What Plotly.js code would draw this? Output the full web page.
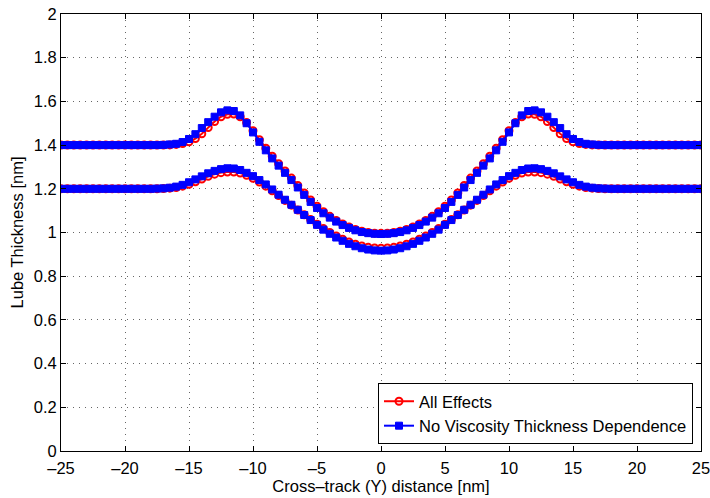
<!DOCTYPE html>
<html>
<head>
<meta charset="utf-8">
<script src="https://cdn.plot.ly/plotly-3.0.1.min.js"></script>
<style>
html,body{margin:0;padding:0;background:#fff;}
#chart{width:710px;height:498px;}
</style>
</head>
<body>
<div id="chart"></div>
<script>
var xNm = [-25,-24.5,-24,-23.5,-23,-22.5,-22,-21.5,-21,-20.5,-20,-19.5,-19,-18.5,-18,-17.5,-17,-16.5,-16,-15.5,-15,-14.5,-14,-13.5,-13,-12.5,-12,-11.5,-11,-10.5,-10,-9.5,-9,-8.5,-8,-7.5,-7,-6.5,-6,-5.5,-5,-4.5,-4,-3.5,-3,-2.5,-2,-1.5,-1,-0.5,0,
0.5,1,1.5,2,2.5,3,3.5,4,4.5,5,5.5,6,6.5,7,7.5,8,8.5,9,9.5,10,10.5,11,11.5,12,12.5,13,13.5,14,14.5,15,15.5,16,16.5,17,17.5,18,18.5,19,19.5,20,20.5,21,21.5,22,22.5,23,23.5,24,24.5,25];

var allEffectsUpper = [1.400,1.400,1.400,1.400,1.400,1.400,1.400,1.400,1.400,1.400,1.400,1.400,1.400,1.400,1.400,
1.400,1.400,1.401,1.403,1.407,1.415,1.430,1.452,1.480,1.508,1.530,1.541,1.542,1.530,1.503,1.466,1.425,1.386,1.349,1.315,1.282,1.249,1.215,1.181,1.149,1.120,1.095,1.074,1.055,1.039,1.025,1.014,1.006,1.000,0.997,0.996,
0.997,1.000,1.006,1.014,1.025,1.039,1.055,1.074,1.095,1.120,1.149,1.181,1.215,1.249,1.282,1.315,1.349,1.386,1.425,1.466,1.503,1.530,1.542,1.541,1.530,1.508,1.480,1.452,1.430,1.415,1.407,1.403,1.401,1.400,1.400,
1.400,1.400,1.400,1.400,1.400,1.400,1.400,1.400,1.400,1.400,1.400,1.400,1.400,1.400,1.400];

var allEffectsLower = [1.200,1.200,1.200,1.200,1.200,1.200,1.200,1.200,1.200,1.200,1.200,1.200,1.200,1.200,1.200,
1.200,1.201,1.203,1.206,1.212,1.221,1.232,1.245,1.257,1.267,1.274,1.277,1.277,1.272,1.262,1.248,1.231,1.212,1.191,1.169,1.147,1.125,1.103,1.081,1.059,1.038,1.018,1.000,0.984,0.969,0.957,0.946,0.938,0.932,0.929,0.928,
0.929,0.932,0.938,0.946,0.957,0.969,0.984,1.000,1.018,1.038,1.059,1.081,1.103,1.125,1.147,1.169,1.191,1.212,1.231,1.248,1.262,1.272,1.277,1.277,1.274,1.267,1.257,1.245,1.232,1.221,1.212,1.206,1.203,1.201,1.200,
1.200,1.200,1.200,1.200,1.200,1.200,1.200,1.200,1.200,1.200,1.200,1.200,1.200,1.200,1.200];

var noViscUpper = [1.400,1.400,1.400,1.400,1.400,1.400,1.400,1.400,1.400,1.400,1.400,1.400,1.400,1.400,1.400,
1.400,1.401,1.403,1.406,1.414,1.428,1.450,1.478,1.505,1.530,1.550,1.559,1.556,1.536,1.500,1.458,1.415,1.376,1.339,1.306,1.273,1.240,1.206,1.172,1.140,1.112,1.088,1.068,1.050,1.034,1.021,1.010,1.002,0.997,0.994,0.993,
0.994,0.997,1.002,1.010,1.021,1.034,1.050,1.068,1.088,1.112,1.140,1.172,1.206,1.240,1.273,1.306,1.339,1.376,1.415,1.458,1.500,1.536,1.556,1.559,1.550,1.530,1.505,1.478,1.450,1.428,1.414,1.406,1.403,1.401,1.400,
1.400,1.400,1.400,1.400,1.400,1.400,1.400,1.400,1.400,1.400,1.400,1.400,1.400,1.400,1.400];

var noViscLower = [1.200,1.200,1.200,1.200,1.200,1.200,1.200,1.200,1.200,1.200,1.200,1.200,1.200,1.200,1.200,
1.201,1.202,1.205,1.210,1.218,1.230,1.243,1.257,1.271,1.282,1.290,1.294,1.293,1.286,1.273,1.258,1.240,1.220,1.197,1.173,1.150,1.127,1.104,1.080,1.057,1.035,1.013,0.994,0.977,0.962,0.948,0.937,0.928,0.922,0.918,0.917,
0.918,0.922,0.928,0.937,0.948,0.962,0.977,0.994,1.013,1.035,1.057,1.080,1.104,1.127,1.150,1.173,1.197,1.220,1.240,1.258,1.273,1.286,1.293,1.294,1.290,1.282,1.271,1.257,1.243,1.230,1.218,1.210,1.205,1.202,1.201,
1.200,1.200,1.200,1.200,1.200,1.200,1.200,1.200,1.200,1.200,1.200,1.200,1.200,1.200,1.200];

var xTickVals = [-25,-20,-15,-10,-5,0,5,10,15,20,25];
var xTickText = ['\u201325','\u201320','\u201315','\u201310','\u20135','0','5','10','15','20','25'];
var yTickVals = [0,0.2,0.4,0.6,0.8,1,1.2,1.4,1.6,1.8,2];
var yTickText = ['0','0.2','0.4','0.6','0.8','1','1.2','1.4','1.6','1.8','2'];

var redStyle = {
  mode: 'lines+markers',
  line: {color: '#ff0000', width: 2},
  marker: {symbol: 'circle-open', size: 7, color: '#ff0000', line: {color: '#ff0000', width: 2}}
};
var blueStyle = {
  mode: 'lines+markers',
  line: {color: '#0000ff', width: 2},
  marker: {symbol: 'square', size: 7, color: '#0000ff', line: {color: '#0000ff', width: 1}}
};

function mk(style, y, name, show) {
  var t = JSON.parse(JSON.stringify(style));
  t.type = 'scatter';
  t.x = xNm; t.y = y; t.name = name; t.showlegend = show;
  return t;
}

var data = [
  mk(redStyle, allEffectsUpper, 'All Effects', true),
  mk(redStyle, allEffectsLower, 'All Effects', false),
  mk(blueStyle, noViscUpper, 'No Viscosity Thickness Dependence', true),
  mk(blueStyle, noViscLower, 'No Viscosity Thickness Dependence', false)
];

var fontFam = '"Liberation Sans", Arial, Helvetica, sans-serif';
var axisCommon = {
  showline: true, linecolor: '#000', linewidth: 1, mirror: 'ticks',
  ticks: 'inside', ticklen: 5, tickcolor: '#000', tickwidth: 1,
  showgrid: true, gridcolor: '#666', griddash: '1px,5px', gridwidth: 1,
  zeroline: false, tickmode: 'array', ticklabeloverflow: 'allow',
  tickfont: {family: fontFam, size: 16.5, color: '#000'}
};

var layout = {
  width: 710, height: 498,
  margin: {l: 61, r: 9, t: 14, b: 47},
  paper_bgcolor: '#fff', plot_bgcolor: '#fff',
  font: {family: fontFam, size: 16.5, color: '#000'},
  xaxis: Object.assign({}, axisCommon, {
    range: [-25, 25], tickvals: xTickVals, ticktext: xTickText, ticklabelstandoff: 2,
    title: {text: 'Cross\u2013track (Y) distance [nm]', font: {family: fontFam, size: 16.5, color: '#000'}, standoff: 0}
  }),
  yaxis: Object.assign({}, axisCommon, {
    range: [0, 2], tickvals: yTickVals, ticktext: yTickText,
    title: {text: 'Lube Thickness [nm]', font: {family: fontFam, size: 16.5, color: '#000'}, standoff: 5}
  }),
  legend: {
    x: 0.9875, y: 0.016, xanchor: 'right', yanchor: 'bottom',
    bgcolor: '#fff', bordercolor: '#000', borderwidth: 1,
    font: {family: fontFam, size: 16.5, color: '#000'},
    tracegroupgap: 0, itemwidth: 30
  },
  showlegend: true
};

Plotly.newPlot('chart', data, layout, {displayModeBar: false, staticPlot: true});
</script>
</body>
</html>
